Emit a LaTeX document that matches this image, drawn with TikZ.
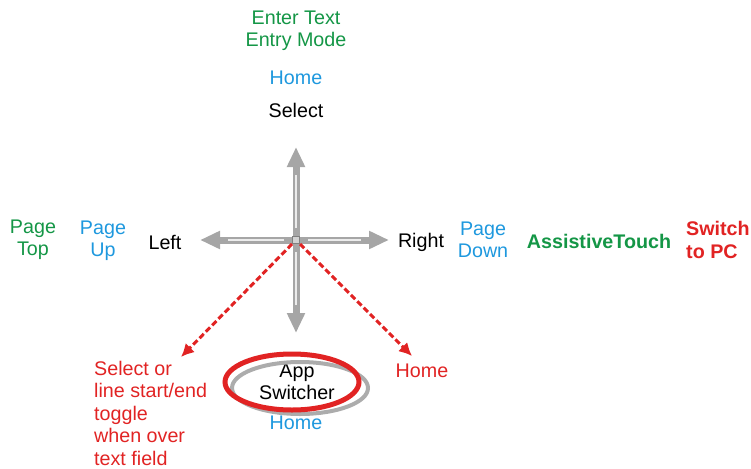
\documentclass[tikz,border=0pt]{standalone}
\usepackage{fontspec}
\setmainfont{Liberation Sans}
\usetikzlibrary{arrows.meta, positioning, shapes.geometric}

\definecolor{tgreen}{RGB}{20,150,70}
\definecolor{tblue}{RGB}{30,152,222}
\definecolor{tred}{RGB}{225,35,35}

\begin{document}
\begin{tikzpicture}[
    x=1pt, y=-1pt,
    lbl/.style={font=\fontsize{19.7}{22.5}\selectfont, align=center, inner sep=0pt},
    shaft/.style={line width=7pt, draw=gray!70, -{Triangle[length=20pt, width=17pt]}},
    shine/.style={line width=2.5pt, draw=gray!15},
    swipe/.style={draw=tred, line width=3pt, dash pattern=on 6pt off 3pt, -{Latex[length=13pt, width=13pt]}}
]
    \useasboundingbox (0,0) rectangle (751,468);

    % the four-way pad
    \coordinate (c) at (296,240);
    \coordinate (up) at (296,147);
    \coordinate (down) at (296,333);
    \coordinate (left) at (200,240);
    \coordinate (right) at (389,240);
    \foreach \tip in {up, down, left, right} {
        \draw[shaft] (c) -- (\tip);
        \draw[shine, shorten <=12pt, shorten >=28pt] (c) -- (\tip);
    }
    \node[draw=gray, fill=gray!35, line width=1pt, minimum size=7pt, inner sep=0pt] (hub) at (c) {};

    % labels, top
    \node[lbl, text=tgreen] (entry) at (296,31) {Enter Text\\Entry Mode};
    \node[lbl, text=tblue] (homeup) at (296,78) {Home};
    \node[lbl] (select) at (296,110) {Select};

    % labels, left and right
    \node[lbl, text=tgreen] (pagetop) at (33,240) {Page\\Top};
    \node[lbl, text=tblue] (pageup) at (103,241) {Page\\Up};
    \node[lbl] (lefttxt) at (165,242) {Left};
    \node[lbl] (righttxt) at (421,242) {Right};
    \node[lbl, text=tblue] (pagedown) at (483,240) {Page\\Down};
    \node[lbl, text=tgreen, font=\fontsize{19.7}{22.5}\selectfont\bfseries] (assist) at (599,241) {AssistiveTouch};
    \node[lbl, text=tred, font=\fontsize{19.7}{22.5}\selectfont\bfseries, align=left, anchor=west] (topc) at (686,240) {Switch\\to PC};

    % bottom
    \node[lbl] (app) at (297,382) {App\\Switcher};
    \draw[gray!65, line width=4pt] ([shift={(3,6)}]app.center) ellipse [x radius=68, y radius=26];
    \draw[tred, line width=5pt] ([shift={(-5,0)}]app.center) ellipse [x radius=67, y radius=28];
    \node[lbl, text=tblue] (homedown) at (296,423) {Home};

    \coordinate (sw) at (181,357);
    \coordinate (se) at (412,356);
    \draw[swipe] (hub) -- (sw);
    \draw[swipe] (hub) -- (se);
    \node[lbl, text=tred, align=left, anchor=west] (toggle) at (94,413) {Select or\\line start/end\\toggle\\when over\\text field};
    \node[lbl, text=tred] (homese) at (422,371) {Home};
\end{tikzpicture}
\end{document}
